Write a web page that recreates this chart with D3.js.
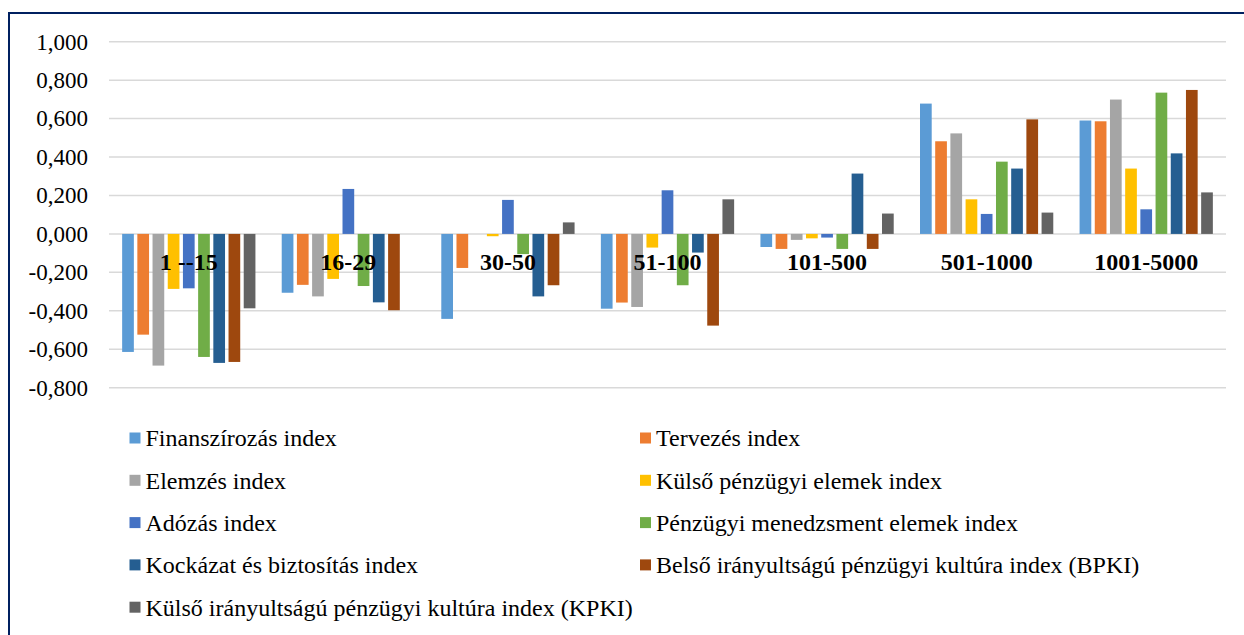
<!DOCTYPE html>
<html>
<head>
<meta charset="utf-8">
<script src="https://cdn.jsdelivr.net/npm/d3@7"></script>
<style>
  body { margin: 0; background: #fff; }
  svg { display: block; }
  svg text { font-family: "Liberation Serif", "Times New Roman", serif; }
</style>
</head>
<body>
<svg></svg>
<script>
// company size groups
let categories = ['1 --15', '16-29', '30-50', '51-100', '101-500', '501-1000', '1001-5000'];

let seriesNames = [
  'Finanszírozás index',
  'Tervezés index',
  'Elemzés index',
  'Külső pénzügyi elemek index',
  'Adózás index',
  'Pénzügyi menedzsment elemek index',
  'Kockázat és biztosítás index',
  'Belső irányultságú pénzügyi kultúra index (BPKI)',
  'Külső irányultságú pénzügyi kultúra index (KPKI)',
];

let seriesColors = ['#5b9bd5', '#ed7d31', '#a5a5a5', '#ffc000', '#4472c4', '#70ad47', '#255e91', '#9e480e', '#636363'];

let finanszirozas = [-0.614, -0.306, -0.442, -0.389, -0.068, 0.678, 0.590];
let tervezes = [-0.524, -0.265, -0.177, -0.357, -0.078, 0.482, 0.586];
let elemzes = [-0.685, -0.325, 0.000, -0.380, -0.031, 0.523, 0.699];
let kulsoElemek = [-0.286, -0.234, -0.012, -0.071, -0.023, 0.180, 0.340];
let adozas = [-0.283, 0.234, 0.177, 0.227, -0.019, 0.104, 0.128];
let menedzsment = [-0.640, -0.271, -0.105, -0.267, -0.078, 0.376, 0.735];
let kockazat = [-0.671, -0.356, -0.325, -0.097, 0.314, 0.340, 0.419];
let bpki = [-0.666, -0.397, -0.267, -0.477, -0.078, 0.596, 0.749];
let kpki = [-0.387, 0.000, 0.060, 0.180, 0.106, 0.111, 0.216];

let yTicks = [1, 0.8, 0.6, 0.4, 0.2, 0, -0.2, -0.4, -0.6, -0.8];

let seriesValues = [finanszirozas, tervezes, elemzes, kulsoElemek, adozas, menedzsment, kockazat, bpki, kpki];

let width = 1244;
let height = 635;
let serif = '"Liberation Serif", "Times New Roman", serif';
let svg = d3.select('svg').attr('width', width).attr('height', height);

// frame (left and top rule)
svg.append('line')
  .attr('x1', 9).attr('x2', 9).attr('y1', 12).attr('y2', height)
  .attr('stroke', '#002060').attr('stroke-width', 2);
svg.append('line')
  .attr('x1', 8).attr('x2', width).attr('y1', 13).attr('y2', 13)
  .attr('stroke', '#002060').attr('stroke-width', 2);

let plotLeft = 109;
let plotRight = 1226;

let y = d3.scaleLinear().domain([-0.8, 1]).range([387.7, 41.7]);

let x0 = d3.scaleBand().domain(categories).range([plotLeft, plotRight]).padding(0);

let x1 = d3.scaleBand()
  .domain(d3.range(seriesNames.length))
  .range([0, x0.bandwidth()])
  .paddingInner(0.23)
  .paddingOuter(0.865);

let fmt = (v) => d3.format('.3f')(v).replace('.', ',').replace('−', '-');

// gridlines
let grid = svg.append('g').classed('grid', true);
grid.selectAll('line')
  .data(yTicks)
  .enter()
  .append('line')
  .attr('x1', plotLeft)
  .attr('x2', plotRight)
  .attr('y1', (d) => y(d))
  .attr('y2', (d) => y(d))
  .attr('stroke', '#d9d9d9')
  .attr('stroke-width', 1.5);

// y axis labels
let yAxis = svg.append('g')
  .attr('transform', `translate(${plotLeft - 21},0)`)
  .call(d3.axisLeft(y).tickValues(yTicks).tickFormat(fmt).tickSize(0).tickPadding(0))
  .attr('font-family', serif);
yAxis.select('.domain').remove();
yAxis.selectAll('text')
  .attr('font-family', serif)
  .attr('font-size', 23)
  .attr('fill', '#000');

// bars
let groups = svg.append('g').classed('bars', true)
  .selectAll('g')
  .data(categories)
  .enter()
  .append('g')
  .attr('transform', (d) => `translate(${x0(d)},0)`);

groups.selectAll('rect')
  .data((d, ci) => seriesValues.map((vals, si) => ({ si, v: vals[ci] })))
  .enter()
  .append('rect')
  .attr('x', (d) => x1(d.si))
  .attr('width', x1.bandwidth())
  .attr('y', (d) => y(Math.max(0, d.v)))
  .attr('height', (d) => Math.abs(y(d.v) - y(0)))
  .attr('fill', (d) => seriesColors[d.si]);

// category labels sit on top of the bars
svg.append('g').classed('cat-labels', true)
  .selectAll('text')
  .data(categories)
  .enter()
  .append('text')
  .attr('x', (d) => x0(d) + x0.bandwidth() / 2)
  .attr('y', 270)
  .attr('text-anchor', 'middle')
  .attr('font-family', serif)
  .attr('font-size', 24)
  .attr('font-weight', 'bold')
  .attr('fill', '#000')
  .text((d) => d);

// legend, two columns
let legend = svg.append('g').classed('legend', true)
  .selectAll('g')
  .data(seriesNames)
  .enter()
  .append('g')
  .attr('transform', (d, i) => `translate(${i % 2 === 0 ? 129.5 : 640},${438 + Math.floor(i / 2) * 42.3})`);

legend.append('rect')
  .attr('x', 0)
  .attr('y', -5.5)
  .attr('width', 11)
  .attr('height', 11)
  .attr('fill', (d, i) => seriesColors[i]);

legend.append('text')
  .attr('x', 16)
  .attr('dy', '0.35em')
  .attr('font-family', serif)
  .attr('font-size', 24)
  .attr('fill', '#000')
  .text((d) => d);
</script>
</body>
</html>
